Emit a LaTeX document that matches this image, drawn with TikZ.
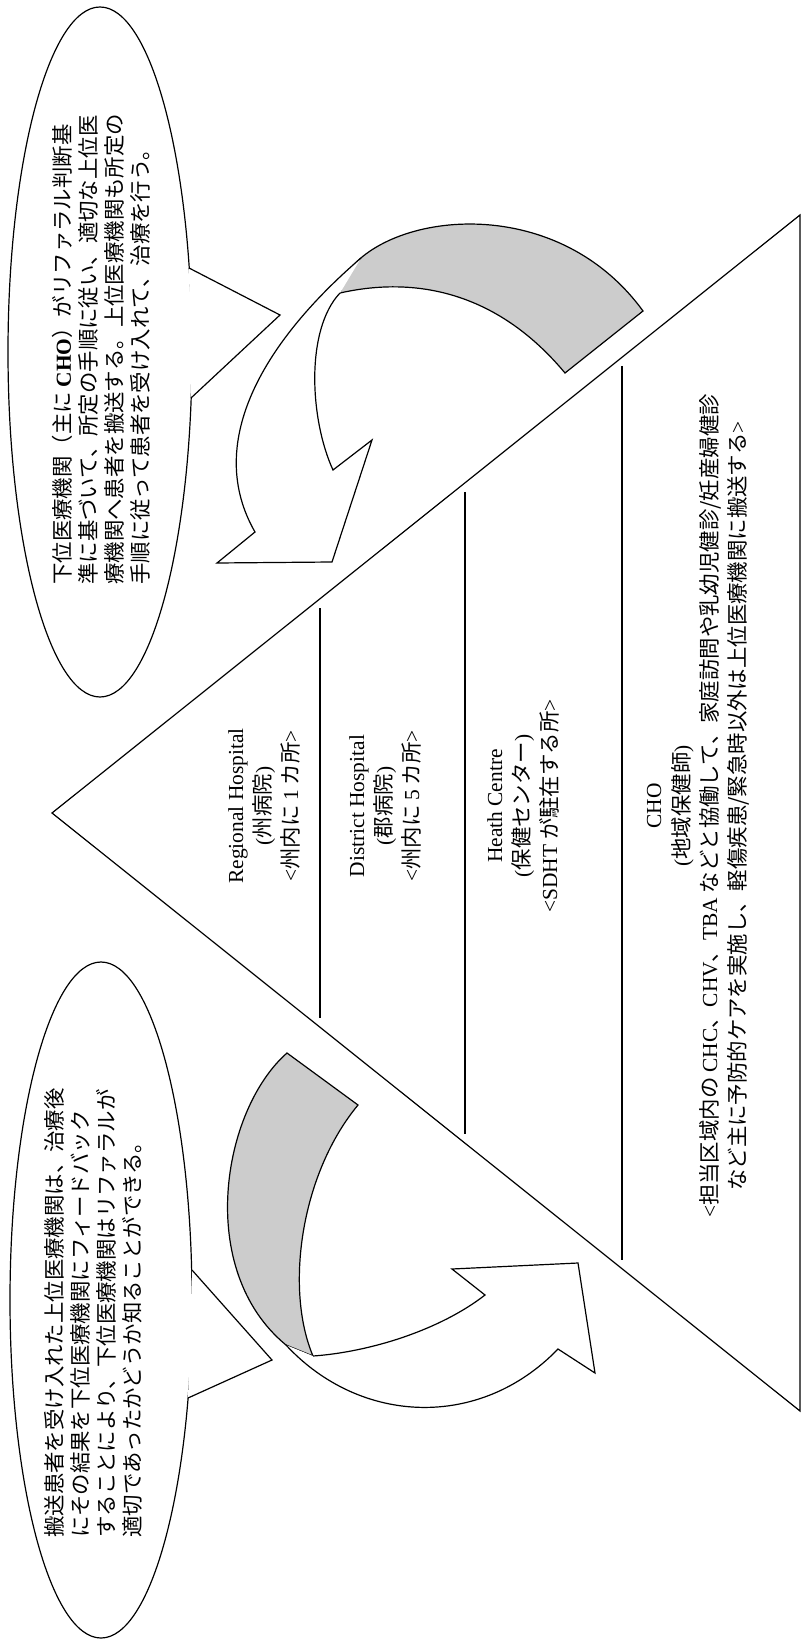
\documentclass[tikz,border=0pt]{standalone}
\usepackage{fontspec}
\setmainfont{Noto Sans CJK JP}
\newfontfamily\latfont{Liberation Serif}
\newcommand{\lat}[1]{{\latfont #1}}
\tikzset{
  ln/.style={line width=0.6pt, line join=miter, miter limit=10},
  bandfill/.style={fill=black!20},
  ptxt/.style={rotate=90, align=center, inner sep=0pt, font=\fontsize{10.7}{13.75}\selectfont},
  ctxt/.style={rotate=90, align=left, inner sep=0pt, anchor=west, font=\fontsize{10.7}{13}\selectfont},
}
\begin{document}
\begin{tikzpicture}[x=0.5pt,y=-0.5pt]
\useasboundingbox (0,0) rectangle (803,1641);
% pyramid
\coordinate (apex) at (52,813);
\coordinate (tc) at (800,215);
\coordinate (bc) at (800,1411);
\draw[ln] (apex) -- (tc) -- (bc) -- cycle;
\coordinate (d1a) at (320,608); \coordinate (d1b) at (320,1018);
\coordinate (d2a) at (465,492); \coordinate (d2b) at (465,1134);
\coordinate (d3a) at (622,366); \coordinate (d3b) at (622,1260);
\draw[ln] (d1a) -- (d1b);
\draw[ln] (d2a) -- (d2b);
\draw[ln] (d3a) -- (d3b);
% level texts
\node[ptxt] (reg) at (264,806) {\lat{Regional Hospital}\\\lat{(}州病院\lat{)}\\\lat{<}州内に \lat{1} カ所\lat{>}};
\node[ptxt] (dis) at (385,806) {\lat{District Hospital}\\\lat{(}郡病院\lat{)}\\\lat{<}州内に \lat{5} カ所\lat{>}};
\node[ptxt] (hc) at (523,806) {\lat{Heath Centre}\\\lat{(}保健センター\lat{)}\\\lat{<SDHT} が駐在する所\lat{>}};
\node[ptxt, font=\fontsize{10.7}{14}\selectfont] (cho) at (698,806) {\lat{CHO}\\\lat{(}地域保健師\lat{)}\\\lat{<}担当区域内の \lat{CHC}、\lat{CHV}、\lat{TBA} などと協働して、家庭訪問や乳幼児健診/妊産婦健診\\など主に予防的ケアを実施し、軽傷疾患/緊急時以外は上位医療機関に搬送する\lat{>}};
% top curved arrow (referral)
\path[ln, bandfill, draw] (340,293) -- (345,276) .. controls (385,212) and (555,190) .. (643,311) -- (565,373) .. controls (500,295) and (420,275) .. (340,293) -- cycle;
\fill[white] (361,258) .. controls (260,345) and (205,445) .. (255,532) -- (217,563) -- (332,562) -- (372,440) -- (333,470) .. controls (310,420) and (305,330) .. (340,293) -- cycle;
\draw[ln] (361,258) .. controls (260,345) and (205,445) .. (255,532) -- (217,563) -- (332,562) -- (372,440) -- (333,470) .. controls (310,420) and (305,330) .. (340,293);
% bottom curved arrow (feedback)
\path[ln, bandfill, draw] (287,1053) -- (358,1105) .. controls (300,1175) and (285,1290) .. (313,1356) -- (286,1345) .. controls (195,1270) and (222,1110) .. (287,1053) -- cycle;
\fill[white] (286,1345) .. controls (360,1425) and (480,1430) .. (558,1349) -- (595,1373) -- (578,1263) -- (452,1269) -- (485,1295) .. controls (440,1330) and (370,1352) .. (313,1356) -- cycle;
\draw[ln] (286,1345) .. controls (360,1425) and (480,1430) .. (558,1349) -- (595,1373) -- (578,1263) -- (452,1269) -- (485,1295) .. controls (440,1330) and (370,1352) .. (313,1356);
% top callout
\path[ln, draw, fill=white] (100,352) ellipse [x radius=46pt, y radius=172.5pt];
\coordinate (tp1) at (189,268); \coordinate (ttip) at (280,315); \coordinate (tp2) at (191,398);
\fill[white] (tp1) -- (ttip) -- (tp2) -- cycle;
\draw[ln] (tp1) -- (ttip) -- (tp2);
\node[ctxt] (ctop) at (101.5,585) {下位医療機関（主に \lat{\bfseries CHO}）がリファラル判断基\\準に基づいて、所定の手順に従い、適切な上位医\\療機関へ患者を搬送する。上位医療機関も所定の\\手順に従って患者を受け入れて、治療を行う。};
% bottom callout
\path[ln, draw, fill=white] (101,1300) ellipse [x radius=45.5pt, y radius=169pt];
\coordinate (bp1) at (192,1270); \coordinate (btip) at (272,1360); \coordinate (bp2) at (188,1398);
\fill[white] (bp1) -- (btip) -- (bp2) -- cycle;
\draw[ln] (bp1) -- (btip) -- (bp2);
\node[ctxt] (cbot) at (93.5,1538) {搬送患者を受け入れた上位医療機関は、治療後\\にその結果を下位医療機関にフィードバック\\することにより、下位医療機関はリファラルが\\適切であったかどうか知ることができる。};
\end{tikzpicture}
\end{document}
